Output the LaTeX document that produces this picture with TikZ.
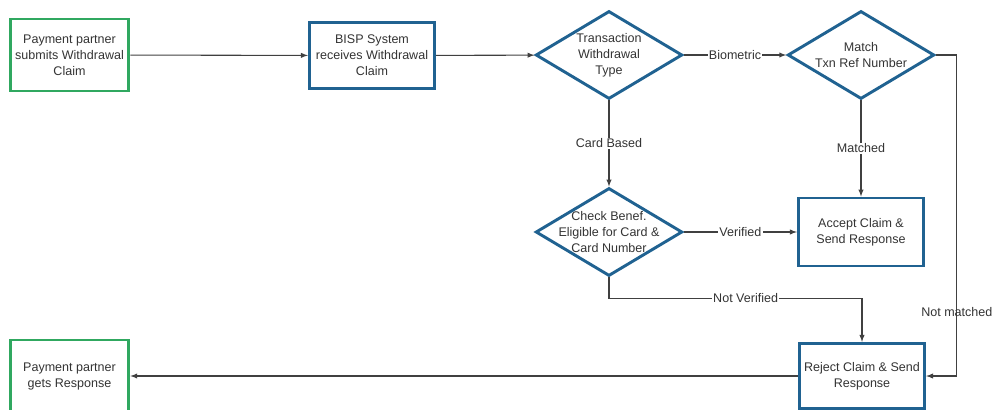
\documentclass[tikz,border=0pt]{standalone}
\usepackage{fontspec}
\setmainfont{Liberation Sans}
\usetikzlibrary{arrows,positioning}
\usetikzlibrary{shapes.geometric}
\definecolor{bispblue}{RGB}{32,98,145}
\definecolor{partgreen}{RGB}{48,168,96}

\begin{document}
\begin{tikzpicture}
		[x=0.75pt,y=-0.75pt,>=latex,
		every node/.style={font=\fontsize{9.4}{12}\selectfont,text=black!80},
		partner box/.style={draw=partgreen,line width=2.2pt,align=center,minimum width=89pt,minimum height=54pt},
		bisp box/.style={draw=bispblue,line width=2.2pt,align=center,minimum width=94pt,minimum height=49pt},
		decision/.style={diamond,draw=bispblue,line width=2.2pt,minimum width=110pt,minimum height=66pt,inner sep=0pt},
		flow/.style={->,draw=black!75,line width=0.8pt},
		edge label/.style={fill=white,inner sep=1pt}]
		\useasboundingbox (0,0) rectangle (992,410);
		
		\node[partner box] (submit) at (69.5,55) {Payment partner\\submits Withdrawal\\Claim};
		\node[bisp box] (receive) at (372,55.5) {BISP System\\receives Withdrawal\\Claim};
		\node[decision,label={[align=center]center:Transaction\\Withdrawal\\Type}] (type) at (609,55) {};
		\node[decision,label={[align=center]center:Match\\Txn Ref Number}] (match) at (861,55) {};
		\node[decision,label={[align=center]center:Check Benef.\\Eligible for Card \&\\Card Number}] (check) at (609,232) {};
		\node[bisp box,minimum height=51pt] (accept) at (861,232) {Accept Claim \&\\Send Response};
		\node[bisp box,minimum height=49pt] (reject) at (862,376) {Reject Claim \& Send\\Response};
		\node[partner box] (response) at (69.5,376) {Payment partner\\gets Response};
		
		\draw[flow] (submit) to (receive);
		\draw[flow] (receive) to (type);
		\draw[flow] (type) to node [edge label] {Biometric} (match);
		\draw[flow] (type) to node [edge label] {Card Based} (check);
		\draw[flow] (match) to node [edge label] {Matched} (accept);
		\draw[flow] (check) to node [edge label] {Verified} (accept);
		\draw[flow] (check.south) -- ++(0,21) -| node [edge label,pos=0.27] {Not Verified} (reject.north);
		\draw[flow] (match.east) -- ++(21,0) |- node [pos=0.4] {Not matched} (reject.east);
		\draw[flow] (reject) to (response);
		\end{tikzpicture}
\end{document}
